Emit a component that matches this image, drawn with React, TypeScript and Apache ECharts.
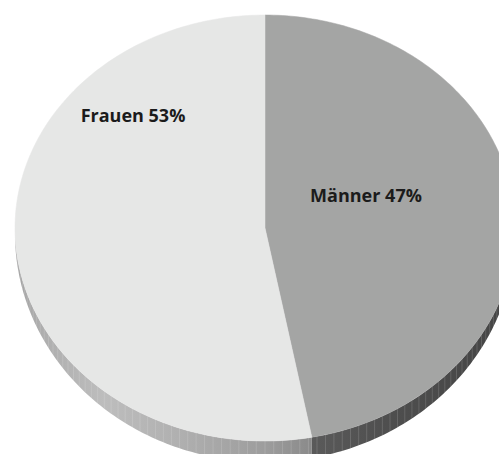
import React, { useEffect, useRef } from 'react';
import * as echarts from 'echarts';

// ---- data ----
const categories = ['Männer', 'Frauen'];
const shares = [47, 53];

// ---- styles / layout ----
const topColors = ['#a4a5a4', '#e6e7e6'];
const sideStops: [number, string][][] = [
  [[0, '#5a5a5a'], [0.4, '#4e4e4e'], [1, '#444444']],
  [[0, '#a4a4a4'], [0.08, '#adadad'], [0.3, '#bdbdbd'], [0.55, '#b0b0b0'], [0.85, '#9c9c9c'], [1, '#8a8a8a']],
];
const labelAnchor = [[0.404, -0.155], [-0.528, -0.53]];
const CX = 265, CY = 228, RX = 250, RY = 213, DY = 6, DRY = 15;

const total = shares.reduce((a, b) => a + b, 0);
function angleRange(idx: number, v: number): [number, number] {
  let s = 0;
  for (let i = 0; i < idx; i++) s += shares[i];
  return [(s / total) * 2 * Math.PI, ((s + v) / total) * 2 * Math.PI];
}
const topPt = (t: number) => [CX + RX * Math.sin(t), CY - RY * Math.cos(t)];
const botPt = (t: number) => [CX + RX * Math.sin(t), CY + DY - (RY + DRY) * Math.cos(t)];

export default function App() {
  const ref = useRef<HTMLDivElement>(null);
  useEffect(() => {
    if (!ref.current) return;
    const chart = echarts.init(ref.current, undefined, { renderer: 'svg' });
    const data = shares.map((v, i) => ({ value: v, name: categories[i] }));
    chart.setOption({
      animation: false,
      backgroundColor: '#ffffff',
      series: [
        {
          type: 'custom',
          coordinateSystem: 'none',
          silent: true,
          z: 1,
          data,
          renderItem: (params: any, api: any) => {
            const i = params.dataIndex;
            const [a0, a1] = angleRange(i, api.value(0));
            const v0 = Math.max(a0, Math.PI / 2);
            const v1 = Math.min(a1, (3 * Math.PI) / 2);
            if (v0 >= v1) return { type: 'group', children: [] };
            const step = Math.PI / 180;
            const n = Math.max(2, Math.ceil((v1 - v0) / step));
            const top: number[][] = [];
            const bot: number[][] = [];
            for (let k = 0; k <= n; k++) {
              const t = v0 + ((v1 - v0) * k) / n;
              top.push(topPt(t));
              bot.push(botPt(t));
            }
            const pts = top.concat(bot.slice().reverse());
            const children: any[] = [
              {
                type: 'polygon',
                shape: { points: pts },
                style: {
                  fill: new echarts.graphic.LinearGradient(
                    0, 0, 1, 0,
                    sideStops[i].map(([o, c]) => ({ offset: o, color: c }))
                  ),
                },
              },
            ];
            const facet = (2 * Math.PI) / 180;
            for (let t = Math.ceil(v0 / facet) * facet; t < v1; t += facet) {
              const p = topPt(t), q = botPt(t);
              children.push({
                type: 'line',
                shape: { x1: p[0], y1: p[1], x2: q[0], y2: q[1] },
                style: { stroke: '#ffffff', opacity: 0.18, lineWidth: 0.8 },
              });
            }
            return { type: 'group', children };
          },
        },
        {
          type: 'custom',
          coordinateSystem: 'none',
          silent: true,
          z: 2,
          data,
          renderItem: (params: any, api: any) => {
            const i = params.dataIndex;
            const v = api.value(0);
            const [a0, a1] = angleRange(i, v);
            const pts: number[][] = [[CX, CY]];
            const n = Math.max(2, Math.ceil((a1 - a0) / (Math.PI / 180)));
            for (let k = 0; k <= n; k++) pts.push(topPt(a0 + ((a1 - a0) * k) / n));
            const [lx, ly] = labelAnchor[i];
            return {
              type: 'group',
              children: [
                {
                  type: 'polygon',
                  shape: { points: pts },
                  style: { fill: topColors[i], stroke: topColors[i], lineWidth: 0.5 },
                },
                {
                  type: 'text',
                  x: CX + lx * RX,
                  y: CY + ly * RY,
                  style: {
                    text: `${categories[i]} ${v}%`,
                    fill: '#1b1b1b',
                    fontFamily: 'Open Sans',
                    fontWeight: 'bold',
                    fontSize: 18,
                    align: 'center',
                    verticalAlign: 'middle',
                  },
                },
              ],
            };
          },
        },
      ],
    });
    return () => chart.dispose();
  }, []);
  return (
    <div
      ref={ref}
      style={{ position: 'fixed', left: 0, top: 0, width: 499, height: 454 }}
    />
  );
}
